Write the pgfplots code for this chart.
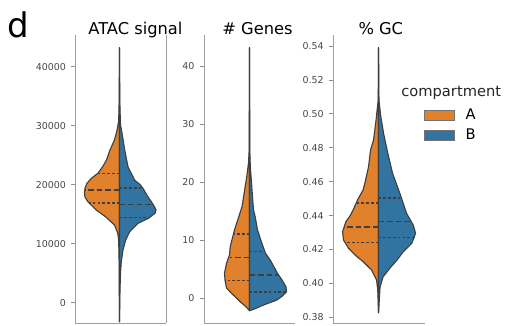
\documentclass[border=0pt]{standalone}
\usepackage{fontspec}
\setmainfont{DejaVu Sans}
\usepackage{pgfplots}
\pgfplotsset{compat=1.18}
\definecolor{vorange}{HTML}{E1812C}
\definecolor{vblue}{HTML}{3274A1}
\definecolor{vedge}{HTML}{3F3F3F}
\pgfplotsset{
 vbase/.style={
   scale only axis, anchor=south west, height=216pt,
   axis x line*=bottom, axis y line*=left,
   xtick=\empty, scaled y ticks=false,
   axis line style={black!38, line width=0.6pt},
   tick style={black!45, line width=0.6pt},
   tick align=outside, major tick length=3pt, ytick pos=left,
   yticklabel style={font=\fontsize{7.1}{8}\selectfont, text=black!72, inner sep=0pt, xshift=-4pt},
   clip=false,
 },
 lhalf/.style={fill=vorange, draw=vedge, line width=0.85pt, line join=round},
 rhalf/.style={fill=vblue, draw=vedge, line width=0.85pt, line join=round},
 med/.style={vedge, line width=1.2pt, dash pattern=on 4.2pt off 2.2pt},
 qrt/.style={vedge, line width=1.2pt, dash pattern=on 2pt off 1.6pt},
}
\begin{document}
\begin{tikzpicture}
\useasboundingbox (0,0) rectangle (379.5pt,243.75pt);
% ---------- ATAC signal ----------
\begin{axis}[vbase, at={(56.6pt,1.5pt)}, width=67.9pt,
  axis y line*=box, xmin=-44, xmax=46.5, ymin=-3441, ymax=45374,
  ytick={0,10000,20000,30000,40000},
  yticklabels={\mbox{0},\mbox{10000},\mbox{20000},\mbox{30000},\mbox{40000}}]
\addplot[lhalf] coordinates {(0,-3221) (-0.4,7238) (-0.8,10628) (-1.8,11814) (-5,13170) (-14,14577) (-23.3,15713) (-31.6,17120) (-34.5,17900) (-35,18543) (-34.5,19400) (-32.5,20238) (-28,21100) (-21.6,21933) (-17,23001) (-13,24188) (-9.5,25883) (-5,27578) (-2.5,29153) (-0.8,30848) (-0.3,34238) (0,43222)} -- cycle;
\addplot[rhalf] coordinates {(0,-3221) (0.5,2153) (1,5034) (1.8,6950) (3.5,8933) (6.2,10628) (10.2,12035) (18.5,13458) (29,14306) (35.5,15153) (36.5,15713) (35,16272) (31.8,17120) (28.4,17967) (23.4,19391) (21,19950) (15,20798) (13.5,21357) (10,22493) (8.5,23052) (5.2,25883) (2.5,28764) (1,30120) (0.3,34238) (0,43222)} -- cycle;
\addplot[qrt] coordinates {(0,21930) (-21.6,21930)};
\addplot[med] coordinates {(0,19150) (-34.5,19150)};
\addplot[qrt] coordinates {(0,16900) (-30.3,16900)};
\addplot[qrt] coordinates {(0,19450) (23,19450)};
\addplot[med] coordinates {(0,16628) (33.5,16628)};
\addplot[qrt] coordinates {(0,14408) (30,14408)};
\end{axis}
% ---------- # Genes ----------
\begin{axis}[vbase, at={(153pt,1.5pt)}, width=68.4pt,
  xmin=-45.5, xmax=45.7, ymin=-4.33, ymax=45.4,
  ytick={0,10,20,30,40},
  yticklabels={\mbox{0},\mbox{10},\mbox{20},\mbox{30},\mbox{40}}]
\addplot[lhalf] coordinates {(0,-2.21) (-3.5,-1.52) (-9.3,-0.66) (-13,-0.02) (-18,0.79) (-23,1.71) (-24.5,3.09) (-25,4.25) (-23,5.98) (-20,7.41) (-19.3,8.84) (-15,11.73) (-7.5,15.75) (-4.3,19.21) (-2.5,21.23) (-1,23.30) (-0.3,25.54) (0,43.21)} -- cycle;
\addplot[rhalf] coordinates {(0,-2.21) (4,-1.97) (14,-1.23) (27.4,-0.36) (32,0.21) (37,1.07) (36.5,1.93) (32.5,3.1) (28,4.25) (20.7,6.55) (16,7.70) (12.4,9.43) (8,11.73) (5.7,14.02) (4,15.18) (3,17.48) (1.8,20.36) (0.8,22.66) (0.3,25.54) (0,43.21)} -- cycle;
\addplot[qrt] coordinates {(0,11) (-16.1,11)};
\addplot[med] coordinates {(0,7) (-20,7)};
\addplot[qrt] coordinates {(0,3) (-24.5,3)};
\addplot[qrt] coordinates {(0,8) (15.4,8)};
\addplot[med] coordinates {(0,4) (29,4)};
\addplot[qrt] coordinates {(0,1) (37,1)};
\end{axis}
% ---------- % GC ----------
\begin{axis}[vbase, at={(250pt,1.5pt)}, width=68.8pt,
  xmin=-45.2, xmax=46.5, ymin=0.37664, ymax=0.54649,
  ytick={0.38,0.40,0.42,0.44,0.46,0.48,0.50,0.52,0.54},
  yticklabels={\mbox{0.38},\mbox{0.40},\mbox{0.42},\mbox{0.44},\mbox{0.46},\mbox{0.48},\mbox{0.50},\mbox{0.52},\mbox{0.54}},
  legend style={at={(0.986,0.75)}, anchor=north west, draw=none, fill=none,
    font=\fontsize{11}{13}\selectfont, inner sep=0pt, row sep=4pt,
    nodes={inner sep=1pt}, /tikz/every odd column/.append style={column sep=7pt}},
  legend cell align=left,
  legend image code/.code={\draw[#1] (0pt,-3.75pt) rectangle (22.5pt,3.75pt);}]
\addlegendimage{fill=vorange, draw=black!55, line width=0.6pt}
\addlegendentry{A}
\addlegendimage{fill=vblue, draw=black!55, line width=0.6pt}
\addlegendentry{B}
\addplot[lhalf, forget plot] coordinates {(0,0.3827) (-0.8,0.3961) (-2,0.4020) (-7,0.4079) (-15,0.4126) (-23.6,0.4168) (-30,0.4207) (-35,0.4256) (-36,0.4305) (-32.6,0.4364) (-28,0.4403) (-24.5,0.4445) (-21,0.4492) (-15.5,0.4551) (-13.7,0.4590) (-10,0.4688) (-8,0.4787) (-5,0.4846) (-2.5,0.4964) (-0.3,0.5082) (0,0.5390)} -- cycle;
\addplot[rhalf, forget plot] coordinates {(0,0.3827) (1.5,0.3979) (4.5,0.4038) (11.5,0.4091) (18.5,0.4138) (24.5,0.4185) (33.2,0.4236) (37,0.4295) (34.7,0.4344) (28,0.4413) (22.5,0.4511) (14,0.4649) (8.5,0.4787) (5,0.4885) (2,0.4993) (0.4,0.5082) (0,0.5390)} -- cycle;
\addplot[qrt, forget plot] coordinates {(0,0.4475) (-22.2,0.4475)};
\addplot[med, forget plot] coordinates {(0,0.4334) (-34.5,0.4334)};
\addplot[qrt, forget plot] coordinates {(0,0.4241) (-33,0.4241)};
\addplot[qrt, forget plot] coordinates {(0,0.4505) (22.8,0.4505)};
\addplot[med, forget plot] coordinates {(0,0.4366) (33,0.4366)};
\addplot[qrt, forget plot] coordinates {(0,0.4271) (36,0.4271)};
\end{axis}
% ---------- texts ----------
\node[anchor=base, inner sep=0pt, font=\fontsize{12.2}{14}\selectfont] at (101.6pt,218pt) {ATAC signal};
\node[anchor=base, inner sep=0pt, font=\fontsize{12.2}{14}\selectfont] at (193.1pt,218pt) {\# Genes};
\node[anchor=base, inner sep=0pt, font=\fontsize{12.2}{14}\selectfont] at (285.6pt,218pt) {\% GC};
\node[anchor=base west, inner sep=0pt, font=\fontsize{25.5}{28}\selectfont] at (5.7pt,215.5pt) {d};
\node[anchor=base west, inner sep=0pt, font=\fontsize{11}{13}\selectfont, text=black!85] at (300.8pt,171.2pt) {compartment};
\end{tikzpicture}
\end{document}
